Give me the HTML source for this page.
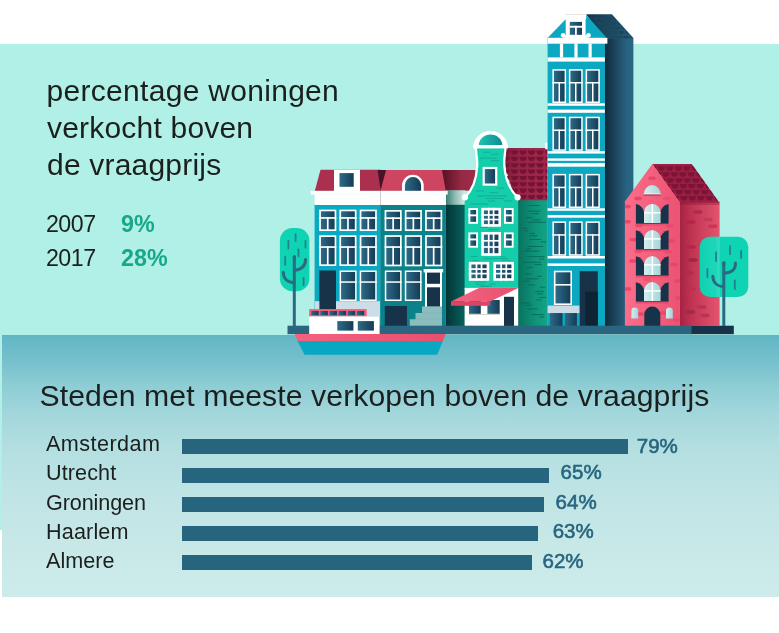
<!DOCTYPE html>
<html lang="nl">
<head>
<meta charset="utf-8">
<title>Percentage woningen verkocht boven de vraagprijs</title>
<style>
html,body{margin:0;padding:0;background:#fff;}
body{width:779px;height:633px;position:relative;overflow:hidden;font-family:"Liberation Sans",sans-serif;color:#1b1f1e;}
.sky{position:absolute;left:0;top:44px;width:779px;height:486px;background:#b1f0e6;}
.water{position:absolute;left:2px;top:335px;width:777px;height:262px;background:linear-gradient(to bottom,#61b6c4 0px,#72bfcb 22px,#8dcdd4 50px,#a3d7dc 80px,#b4dfe1 115px,#c0e4e5 160px,#c8e8e8 210px,#cdebeb 262px);}
.t{position:absolute;white-space:nowrap;line-height:1;margin:0;font-weight:400;}
.h1{font-size:30px;left:46.5px;}
.h2{font-size:30.2px;left:39.5px;top:380.8px;letter-spacing:0.08px;}
.yr{font-size:23.2px;left:45.9px;letter-spacing:-0.45px;}
.pc{font-size:23.3px;font-weight:700;color:#18a78b;left:121px;}
.city{font-size:21.6px;left:46px;}
.bar{position:absolute;left:182px;height:15px;background:#27657f;}
.val{font-size:20.5px;font-weight:400;color:#27657f;-webkit-text-stroke:0.6px #27657f;}
svg{position:absolute;left:0;top:0;}
</style>
</head>
<body>
<div class="sky"></div>
<div class="water"></div>
<svg width="779" height="633" viewBox="0 0 779 633">
<defs>
<linearGradient id="gl" x1="0" x2="1" y1="0" y2="0"><stop offset="0" stop-color="#2c6b87"/><stop offset="1" stop-color="#153c56"/></linearGradient>
<linearGradient id="gapg" x1="0" x2="1" y1="0" y2="0"><stop offset="0" stop-color="#013434"/><stop offset="1" stop-color="#08635e"/></linearGradient>
<linearGradient id="roofb" x1="0" x2="1" y1="0" y2="0"><stop offset="0.1" stop-color="#5a1427"/><stop offset="0.6" stop-color="#962944"/><stop offset="1" stop-color="#a02c48"/></linearGradient>
<linearGradient id="corng" x1="0" x2="1" y1="0" y2="0"><stop offset="0" stop-color="#33786e"/><stop offset="0.5" stop-color="#8dbcb2"/><stop offset="1" stop-color="#d6eae5"/></linearGradient>
<linearGradient id="sideg" x1="0" x2="1" y1="0" y2="0"><stop offset="0" stop-color="#08705d"/><stop offset="0.6" stop-color="#0f947a"/><stop offset="1" stop-color="#13a485"/></linearGradient>
<linearGradient id="tallside" x1="0" x2="1" y1="0" y2="0"><stop offset="0" stop-color="#10283a"/><stop offset="0.75" stop-color="#276280"/><stop offset="1" stop-color="#2a6885"/></linearGradient>
<linearGradient id="redf" x1="0" x2="1" y1="0" y2="0"><stop offset="0" stop-color="#fb6e8a"/><stop offset="1" stop-color="#ea5371"/></linearGradient>
<linearGradient id="reds" x1="0" x2="1" y1="0" y2="0"><stop offset="0" stop-color="#a32243"/><stop offset="0.25" stop-color="#bd3150"/><stop offset="1" stop-color="#e5546f"/></linearGradient>
<linearGradient id="lwin" x1="0" x2="1" y1="0" y2="0"><stop offset="0" stop-color="#d3eeee"/><stop offset="1" stop-color="#a3d7da"/></linearGradient>
<linearGradient id="groof" x1="0" x2="1" y1="0" y2="0"><stop offset="0" stop-color="#7b1b39"/><stop offset="0.35" stop-color="#98224a"/><stop offset="1" stop-color="#a3264b"/></linearGradient>
<linearGradient id="troof" x1="0" x2="1" y1="0" y2="0"><stop offset="0" stop-color="#143449"/><stop offset="1" stop-color="#265d78"/></linearGradient>
<linearGradient id="trhl" x1="0" x2="1" y1="0" y2="0"><stop offset="0" stop-color="#0fcaa8" stop-opacity=".35"/><stop offset="0.8" stop-color="#3fdcc4" stop-opacity=".3"/><stop offset="1" stop-color="#6fe8d4" stop-opacity=".45"/></linearGradient>
<linearGradient id="awn" x1="0" x2="1" y1="0" y2="0"><stop offset="0" stop-color="#f4647f"/><stop offset="1" stop-color="#e65070"/></linearGradient>
<linearGradient id="archg" x1="0" x2="1" y1="0" y2="0"><stop offset="0" stop-color="#1fc4b0"/><stop offset="1" stop-color="#0d8b96"/></linearGradient>
<linearGradient id="hullp" x1="0" x2="1" y1="0" y2="0"><stop offset="0" stop-color="#f4627f"/><stop offset="1" stop-color="#e84f6e"/></linearGradient>
<clipPath id="cgreenroof"><path d="M505,148 L547.4,148 L547.4,200.3 L518,200.3 L518,197 C510,190 505.6,180 504.6,166 Z"/></clipPath>
<clipPath id="credroof"><path d="M652.3,164.1 L691.7,164.1 L719.2,202.4 L679.8,202.4 Z"/></clipPath>
<clipPath id="credfront"><path d="M624.9,326 L624.9,201.4 L652.3,164.1 L679.8,202 L679.8,326 Z"/></clipPath>
<clipPath id="credside"><rect x="679.8" y="202" width="39.6" height="124"/></clipPath>
<clipPath id="ctallroof"><path d="M588,15 L611.5,15 L632,38 L606.5,38 Z"/></clipPath>
</defs>
<rect x="287.5" y="325.7" width="404" height="8.5" fill="#2a6680"/>
<rect x="691" y="325.7" width="42.8" height="8.5" fill="#17334a"/>
<rect x="279.9" y="228" width="29.5" height="63.19999999999999" rx="12.5" ry="12.5" fill="#0fd4b4"/>
<g stroke="#2a6a82" stroke-width="3" stroke-linecap="round" fill="none">
<path d="M294.3,256 L294.3,326" stroke-linecap="butt"/>
<path d="M294.3,256.5 L294.3,259"/>
<path d="M305.5,259.5 C305.8,266 301,270 294.3,270.3"/>
<path d="M283.3,272.2 C283.3,279 288,282.5 294.3,282.7"/>
</g>
<g stroke="#247f93" stroke-width="1.8" stroke-linecap="round">
<path d="M295.6,234.1 L295.6,241.0"/>
<path d="M288.4,240.8 L288.4,248.6"/>
<path d="M305.5,240.8 L305.5,247.7"/>
<path d="M298.5,249.3 L298.5,256.2"/>
<path d="M285.2,256.8 L285.2,264.8"/>
<path d="M303.6,277.8 L303.6,285.2"/>
</g>
<rect x="314.6" y="204" width="66" height="122" fill="#0aa9c2"/>
<path d="M320.5,169.8 L381,169.8 L381,191 L314.8,191 Z" fill="#ab304f"/>
<rect x="334" y="169.8" width="26" height="22" fill="#fff"/>
<rect x="339.5" y="173.1" width="14.2" height="13.7" fill="url(#gl)"/>
<rect x="310.7" y="190.8" width="70" height="3.8" fill="#fff"/>
<rect x="314.6" y="194.4" width="66" height="10.6" fill="#fff"/>
<rect x="319.2" y="209.6" width="17.1" height="21.4" fill="#fff"/>
<rect x="320.9" y="211.3" width="13.7" height="18.0" fill="url(#gl)"/>
<rect x="319.2" y="217.1" width="17.1" height="1.7" fill="#fff"/>
<rect x="326.9" y="217.1" width="1.7" height="13.4" fill="#fff"/>
<rect x="319.2" y="235.3" width="17.1" height="30.7" fill="#fff"/>
<rect x="320.9" y="237.0" width="13.7" height="27.3" fill="url(#gl)"/>
<rect x="319.2" y="246.2" width="17.1" height="1.7" fill="#fff"/>
<rect x="326.9" y="246.2" width="1.7" height="19.3" fill="#fff"/>
<rect x="339.4" y="209.6" width="17.1" height="21.4" fill="#fff"/>
<rect x="341.1" y="211.3" width="13.7" height="18.0" fill="url(#gl)"/>
<rect x="339.4" y="217.1" width="17.1" height="1.7" fill="#fff"/>
<rect x="347.1" y="217.1" width="1.7" height="13.4" fill="#fff"/>
<rect x="339.4" y="235.3" width="17.1" height="30.7" fill="#fff"/>
<rect x="341.1" y="237.0" width="13.7" height="27.3" fill="url(#gl)"/>
<rect x="339.4" y="246.2" width="17.1" height="1.7" fill="#fff"/>
<rect x="347.1" y="246.2" width="1.7" height="19.3" fill="#fff"/>
<rect x="359.7" y="209.6" width="17.1" height="21.4" fill="#fff"/>
<rect x="361.4" y="211.3" width="13.7" height="18.0" fill="url(#gl)"/>
<rect x="359.7" y="217.1" width="17.1" height="1.7" fill="#fff"/>
<rect x="367.4" y="217.1" width="1.7" height="13.4" fill="#fff"/>
<rect x="359.7" y="235.3" width="17.1" height="30.7" fill="#fff"/>
<rect x="361.4" y="237.0" width="13.7" height="27.3" fill="url(#gl)"/>
<rect x="359.7" y="246.2" width="17.1" height="1.7" fill="#fff"/>
<rect x="367.4" y="246.2" width="1.7" height="19.3" fill="#fff"/>
<rect x="339.6" y="270.5" width="17.0" height="30.5" fill="#fff"/>
<rect x="341.1" y="272.0" width="14.0" height="27.5" fill="url(#gl)"/>
<rect x="339.6" y="281.3" width="17.0" height="1.5" fill="#fff"/>
<rect x="359.7" y="270.5" width="17.0" height="30.5" fill="#fff"/>
<rect x="361.2" y="272.0" width="14.0" height="27.5" fill="url(#gl)"/>
<rect x="359.7" y="281.3" width="17.0" height="1.5" fill="#fff"/>
<rect x="319.3" y="270.5" width="16.7" height="40" fill="#17334a"/>
<rect x="314.8" y="301.2" width="4.5" height="15.5" fill="#ccdde8"/>
<rect x="336" y="301.2" width="44" height="15.5" fill="#ccdde8"/>
<rect x="440" y="170" width="36" height="20.6" fill="url(#roofb)"/>
<rect x="445" y="190.4" width="20" height="14.6" fill="url(#corng)"/>
<rect x="445.8" y="204.8" width="19.2" height="121.2" fill="url(#gapg)"/>
<rect x="380.3" y="204" width="65.6" height="122" fill="#0b8189"/>
<path d="M380.3,169.9 L442,169.9 L445.8,191 L380.3,191 Z" fill="#cd4560"/>
<path d="M377.6,169.9 L386,169.9 L380.6,190.5 Z" fill="#4a1226"/>
<path d="M402,191.5 L402,185.6 A10.85,10.85 0 0 1 423.7,185.6 L423.7,191.5 Z" fill="#fff"/>
<path d="M404.9,191 L404.9,185.3 A8.1,8.3 0 0 1 421.1,185.3 L421.1,191 Z" fill="url(#gl)"/>
<rect x="380.3" y="190.8" width="67.4" height="3.8" fill="#fff"/>
<rect x="380.3" y="194.4" width="65.7" height="10.6" fill="#fff"/>
<rect x="380.1" y="190.8" width="0.5" height="14.2" fill="#9a9a9a"/>
<rect x="384.6" y="210.0" width="17.1" height="21.0" fill="#fff"/>
<rect x="386.3" y="211.7" width="13.7" height="17.6" fill="url(#gl)"/>
<rect x="384.6" y="217.3" width="17.1" height="1.7" fill="#fff"/>
<rect x="392.3" y="217.3" width="1.7" height="13.2" fill="#fff"/>
<rect x="384.6" y="235.2" width="17.1" height="31.1" fill="#fff"/>
<rect x="386.3" y="236.9" width="13.7" height="27.7" fill="url(#gl)"/>
<rect x="384.6" y="246.2" width="17.1" height="1.7" fill="#fff"/>
<rect x="392.3" y="246.2" width="1.7" height="19.6" fill="#fff"/>
<rect x="404.8" y="210.0" width="17.1" height="21.0" fill="#fff"/>
<rect x="406.5" y="211.7" width="13.7" height="17.6" fill="url(#gl)"/>
<rect x="404.8" y="217.3" width="17.1" height="1.7" fill="#fff"/>
<rect x="412.5" y="217.3" width="1.7" height="13.2" fill="#fff"/>
<rect x="404.8" y="235.2" width="17.1" height="31.1" fill="#fff"/>
<rect x="406.5" y="236.9" width="13.7" height="27.7" fill="url(#gl)"/>
<rect x="404.8" y="246.2" width="17.1" height="1.7" fill="#fff"/>
<rect x="412.5" y="246.2" width="1.7" height="19.6" fill="#fff"/>
<rect x="425.1" y="210.0" width="17.1" height="21.0" fill="#fff"/>
<rect x="426.8" y="211.7" width="13.7" height="17.6" fill="url(#gl)"/>
<rect x="425.1" y="217.3" width="17.1" height="1.7" fill="#fff"/>
<rect x="432.8" y="217.3" width="1.7" height="13.2" fill="#fff"/>
<rect x="425.1" y="235.2" width="17.1" height="31.1" fill="#fff"/>
<rect x="426.8" y="236.9" width="13.7" height="27.7" fill="url(#gl)"/>
<rect x="425.1" y="246.2" width="17.1" height="1.7" fill="#fff"/>
<rect x="432.8" y="246.2" width="1.7" height="19.6" fill="#fff"/>
<rect x="384.8" y="270.5" width="16.8" height="30.5" fill="#fff"/>
<rect x="386.3" y="272.0" width="13.8" height="27.5" fill="url(#gl)"/>
<rect x="384.8" y="281.3" width="16.8" height="1.5" fill="#fff"/>
<rect x="404.8" y="270.5" width="16.8" height="30.5" fill="#fff"/>
<rect x="406.3" y="272.0" width="13.8" height="27.5" fill="url(#gl)"/>
<rect x="404.8" y="281.3" width="16.8" height="1.5" fill="#fff"/>
<rect x="423.6" y="269" width="19.6" height="3.4" fill="#fff"/>
<rect x="425" y="272" width="17" height="35" fill="#fff"/>
<rect x="427" y="272.6" width="13" height="11.2" fill="#17334a"/>
<rect x="427" y="287.3" width="13" height="19.5" fill="#17334a"/>
<rect x="384.8" y="306" width="22.2" height="20" fill="#17334a"/>
<path d="M442,306.5 L422,306.5 L422,313 L415.5,313 L415.5,319.2 L409.8,319.2 L409.8,326 L442,326 Z" fill="#8cbdbe"/>
<path d="M422,312.7 L442,312.7 M415.5,319 L442,319" stroke="#7fb1b3" stroke-width="0.6"/>
<rect x="517" y="199" width="30.8" height="127" fill="url(#sideg)"/>
<path d="M500,148 L547.4,148 L547.4,200.3 L515,200.3 Z" fill="url(#groof)"/>
<g clip-path="url(#cgreenroof)" fill="#741433">
<path d="M502.5,150.5 a3.6,4.3 0 0 0 7.2,0 z"/>
<path d="M511.0,150.5 a3.6,4.3 0 0 0 7.2,0 z"/>
<path d="M519.5,150.5 a3.6,4.3 0 0 0 7.2,0 z"/>
<path d="M528.0,150.5 a3.6,4.3 0 0 0 7.2,0 z"/>
<path d="M536.5,150.5 a3.6,4.3 0 0 0 7.2,0 z"/>
<path d="M545.0,150.5 a3.6,4.3 0 0 0 7.2,0 z"/>
<path d="M502.5,156.8 a3.6,4.3 0 0 0 7.2,0 z"/>
<path d="M511.0,156.8 a3.6,4.3 0 0 0 7.2,0 z"/>
<path d="M519.5,156.8 a3.6,4.3 0 0 0 7.2,0 z"/>
<path d="M528.0,156.8 a3.6,4.3 0 0 0 7.2,0 z"/>
<path d="M536.5,156.8 a3.6,4.3 0 0 0 7.2,0 z"/>
<path d="M545.0,156.8 a3.6,4.3 0 0 0 7.2,0 z"/>
<path d="M502.5,163.2 a3.6,4.3 0 0 0 7.2,0 z"/>
<path d="M511.0,163.2 a3.6,4.3 0 0 0 7.2,0 z"/>
<path d="M519.5,163.2 a3.6,4.3 0 0 0 7.2,0 z"/>
<path d="M528.0,163.2 a3.6,4.3 0 0 0 7.2,0 z"/>
<path d="M536.5,163.2 a3.6,4.3 0 0 0 7.2,0 z"/>
<path d="M545.0,163.2 a3.6,4.3 0 0 0 7.2,0 z"/>
<path d="M502.5,169.5 a3.6,4.3 0 0 0 7.2,0 z"/>
<path d="M511.0,169.5 a3.6,4.3 0 0 0 7.2,0 z"/>
<path d="M519.5,169.5 a3.6,4.3 0 0 0 7.2,0 z"/>
<path d="M528.0,169.5 a3.6,4.3 0 0 0 7.2,0 z"/>
<path d="M536.5,169.5 a3.6,4.3 0 0 0 7.2,0 z"/>
<path d="M545.0,169.5 a3.6,4.3 0 0 0 7.2,0 z"/>
<path d="M502.5,175.9 a3.6,4.3 0 0 0 7.2,0 z"/>
<path d="M511.0,175.9 a3.6,4.3 0 0 0 7.2,0 z"/>
<path d="M519.5,175.9 a3.6,4.3 0 0 0 7.2,0 z"/>
<path d="M528.0,175.9 a3.6,4.3 0 0 0 7.2,0 z"/>
<path d="M536.5,175.9 a3.6,4.3 0 0 0 7.2,0 z"/>
<path d="M545.0,175.9 a3.6,4.3 0 0 0 7.2,0 z"/>
<path d="M502.5,182.2 a3.6,4.3 0 0 0 7.2,0 z"/>
<path d="M511.0,182.2 a3.6,4.3 0 0 0 7.2,0 z"/>
<path d="M519.5,182.2 a3.6,4.3 0 0 0 7.2,0 z"/>
<path d="M528.0,182.2 a3.6,4.3 0 0 0 7.2,0 z"/>
<path d="M536.5,182.2 a3.6,4.3 0 0 0 7.2,0 z"/>
<path d="M545.0,182.2 a3.6,4.3 0 0 0 7.2,0 z"/>
<path d="M502.5,188.6 a3.6,4.3 0 0 0 7.2,0 z"/>
<path d="M511.0,188.6 a3.6,4.3 0 0 0 7.2,0 z"/>
<path d="M519.5,188.6 a3.6,4.3 0 0 0 7.2,0 z"/>
<path d="M528.0,188.6 a3.6,4.3 0 0 0 7.2,0 z"/>
<path d="M536.5,188.6 a3.6,4.3 0 0 0 7.2,0 z"/>
<path d="M545.0,188.6 a3.6,4.3 0 0 0 7.2,0 z"/>
<path d="M502.5,194.9 a3.6,4.3 0 0 0 7.2,0 z"/>
<path d="M511.0,194.9 a3.6,4.3 0 0 0 7.2,0 z"/>
<path d="M519.5,194.9 a3.6,4.3 0 0 0 7.2,0 z"/>
<path d="M528.0,194.9 a3.6,4.3 0 0 0 7.2,0 z"/>
<path d="M536.5,194.9 a3.6,4.3 0 0 0 7.2,0 z"/>
<path d="M545.0,194.9 a3.6,4.3 0 0 0 7.2,0 z"/>
</g>
<g stroke="#076b58" stroke-width="0.9">
<path d="M528.5,205.5 h10.9"/>
<path d="M528.5,211.2 h11.6"/>
<path d="M532.2,213.6 h6.6"/>
<path d="M526.0,217.6 h6.2"/>
<path d="M532.4,220.0 h8.0"/>
<path d="M527.9,222.3 h17.8"/>
<path d="M520.3,228.3 h7.0"/>
<path d="M524.1,230.7 h4.3"/>
<path d="M529.6,233.4 h5.4"/>
<path d="M529.2,235.8 h8.2"/>
<path d="M529.6,239.5 h11.5"/>
<path d="M540.6,241.9 h5.4"/>
<path d="M527.1,246.5 h15.9"/>
<path d="M526.0,248.9 h5.1"/>
<path d="M524.4,251.2 h15.0"/>
<path d="M527.2,256.6 h17.5"/>
<path d="M539.1,259.0 h5.0"/>
<path d="M523.3,262.3 h17.7"/>
<path d="M534.7,264.7 h7.1"/>
<path d="M526.6,267.5 h6.1"/>
<path d="M524.8,273.9 h6.5"/>
<path d="M537.3,276.3 h4.3"/>
<path d="M526.1,278.8 h12.3"/>
<path d="M522.4,281.2 h7.7"/>
<path d="M528.2,284.9 h6.5"/>
<path d="M540.1,287.3 h5.3"/>
<path d="M535.1,291.4 h9.0"/>
<path d="M537.1,293.8 h6.0"/>
<path d="M539.5,297.5 h6.3"/>
<path d="M536.0,299.9 h5.3"/>
<path d="M521.3,302.9 h8.9"/>
<path d="M524.6,305.3 h6.9"/>
<path d="M527.3,308.9 h9.8"/>
<path d="M531.7,314.6 h12.5"/>
<path d="M539.3,317.0 h4.8"/>
</g>
<rect x="545.2" y="142.8" width="2.5" height="6.4" fill="#fff"/>
<path d="M475.6,148 L505.7,148 C505.2,156 504,160 504.6,166 C505.6,180 510,190 518.2,197.5 L518.2,289 L464.6,289 L464.6,197.5 C472.5,190 476.2,180 477,166 C477.4,160 476.2,156 475.6,148 Z" fill="#13cdab"/>
<path d="M473,148.2 L473,148 A17.5,17.1 0 0 1 508,148 L508,148.2 Z" fill="#fff"/>
<path d="M478.8,145.1 A11.75,10.5 0 0 1 502.3,145.1 Z" fill="url(#archg)"/>
<path d="M473.6,144.9 L507.4,144.9 L508,148.2 L473,148.2 Z" fill="#fff"/>
<path d="M475.8,148 C476.4,156 477.6,160 477.2,166 C476.4,180 472.6,190 465,197.3" stroke="#fff" stroke-width="2.3" fill="none"/>
<path d="M505.5,148 C504.9,156 503.7,160 504.4,166 C505.4,180 509.8,190 517.6,197.3" stroke="#fff" stroke-width="2.3" fill="none"/>
<circle cx="465" cy="197.3" r="3.1" fill="#fff"/><circle cx="517.6" cy="197.3" r="3.1" fill="#fff"/>
<g stroke="#0fab91" stroke-width="0.85">
<path d="M483.1,152.3 h7.5"/>
<path d="M491,154.2 h8"/>
<path d="M480,158.2 h17.5"/>
<path d="M491,160.6 h8"/>
<path d="M496.5,188.1 h7.5"/>
<path d="M476,191 h8"/>
<path d="M489.5,192.6 h8.5"/>
<path d="M477,196 h30"/>
<path d="M486,198.5 h18"/>
<path d="M488,201 h7"/>
<path d="M504,201 h8"/>
<path d="M470,204 h18"/>
<path d="M480.6,227.5 h7.5"/>
<path d="M488.9,229.4 h9.7"/>
<path d="M487.8,229.6 h5.2"/>
<path d="M470.7,256.5 h6.9"/>
<path d="M500.2,256.7 h5.6"/>
<path d="M492.5,258.5 h15.5"/>
<path d="M483.5,258.7 h9.9"/>
<path d="M501.5,260.3 h8.9"/>
<path d="M472.6,260.5 h6.5"/>
<path d="M475.0,282.0 h11.8"/>
<path d="M489.4,284.1 h6.6"/>
<path d="M476.0,284.3 h8.4"/>
<path d="M480.3,286.2 h11.9"/>
<path d="M479.7,286.4 h9.0"/>
</g>
<rect x="482.6" y="166.9" width="14.7" height="18.8" fill="#fff"/><rect x="484.8" y="169.1" width="10.3" height="14.4" fill="url(#gl)"/>
<rect x="468.4" y="208.1" width="9.6" height="15.7" fill="#fff"/>
<rect x="470.3" y="210.0" width="5.8" height="11.9" fill="url(#gl)"/>
<rect x="468.4" y="214.4" width="9.6" height="1.9" fill="#fff"/>
<rect x="504.0" y="208.1" width="9.6" height="15.7" fill="#fff"/>
<rect x="505.9" y="210.0" width="5.8" height="11.9" fill="url(#gl)"/>
<rect x="504.0" y="214.4" width="9.6" height="1.9" fill="#fff"/>
<rect x="481.3" y="207.8" width="19.7" height="18.9" fill="#fff"/>
<rect x="483.9" y="210.4" width="14.5" height="13.7" fill="url(#gl)"/>
<rect x="487.88" y="207.8" width="1.7" height="18.9" fill="#fff"/>
<rect x="492.72" y="207.8" width="1.7" height="18.9" fill="#fff"/>
<rect x="481.3" y="214.12" width="19.7" height="1.7" fill="#fff"/>
<rect x="481.3" y="218.68" width="19.7" height="1.7" fill="#fff"/>
<rect x="468.4" y="232.4" width="9.6" height="15.3" fill="#fff"/>
<rect x="470.3" y="234.3" width="5.8" height="11.5" fill="url(#gl)"/>
<rect x="468.4" y="238.5" width="9.6" height="1.9" fill="#fff"/>
<rect x="504.0" y="232.4" width="9.6" height="15.3" fill="#fff"/>
<rect x="505.9" y="234.3" width="5.8" height="11.5" fill="url(#gl)"/>
<rect x="504.0" y="238.5" width="9.6" height="1.9" fill="#fff"/>
<rect x="481.3" y="232.0" width="19.7" height="23.8" fill="#fff"/>
<rect x="483.9" y="234.6" width="14.5" height="18.6" fill="url(#gl)"/>
<rect x="487.88" y="232.0" width="1.7" height="23.8" fill="#fff"/>
<rect x="492.72" y="232.0" width="1.7" height="23.8" fill="#fff"/>
<rect x="481.3" y="239.95" width="19.7" height="1.7" fill="#fff"/>
<rect x="481.3" y="246.15" width="19.7" height="1.7" fill="#fff"/>
<rect x="468.8" y="261.9" width="20.4" height="18.9" fill="#fff"/>
<rect x="471.4" y="264.5" width="15.2" height="13.7" fill="url(#gl)"/>
<rect x="475.62" y="261.9" width="1.7" height="18.9" fill="#fff"/>
<rect x="480.68" y="261.9" width="1.7" height="18.9" fill="#fff"/>
<rect x="468.8" y="268.22" width="20.4" height="1.7" fill="#fff"/>
<rect x="468.8" y="272.78" width="20.4" height="1.7" fill="#fff"/>
<rect x="493.4" y="261.9" width="20.6" height="18.9" fill="#fff"/>
<rect x="496.0" y="264.5" width="15.4" height="13.7" fill="url(#gl)"/>
<rect x="500.28" y="261.9" width="1.7" height="18.9" fill="#fff"/>
<rect x="505.42" y="261.9" width="1.7" height="18.9" fill="#fff"/>
<rect x="493.4" y="268.22" width="20.6" height="1.7" fill="#fff"/>
<rect x="493.4" y="272.78" width="20.6" height="1.7" fill="#fff"/>
<rect x="464.6" y="287.9" width="53.6" height="38" fill="#fff"/>
<rect x="469" y="300" width="11.8" height="13.8" fill="url(#gl)"/><rect x="487.4" y="300" width="12.3" height="13.8" fill="url(#gl)"/>
<rect x="468.5" y="314" width="31.5" height="0.6" fill="#b9b4a8"/>
<rect x="504" y="296.8" width="10" height="29.2" fill="#17334a"/>
<path d="M478.9,287.9 L518.2,287.9 L490.2,301.6 L451,301.6 Z" fill="url(#awn)"/>
<rect x="451" y="301.4" width="39.2" height="4.4" fill="#d84566"/>
<rect x="604.5" y="38" width="28.9" height="288" fill="url(#tallside)"/>
<path d="M586,14.2 L611.9,14.2 L633,37.6 L633,39 L604.5,39 Z" fill="url(#troof)"/>
<g clip-path="url(#ctallroof)" fill="#1b465e">
<path d="M580.0,17.5 a2.8,3.0 0 0 0 5.6,0 z"/>
<path d="M586.6,17.5 a2.8,3.0 0 0 0 5.6,0 z"/>
<path d="M593.2,17.5 a2.8,3.0 0 0 0 5.6,0 z"/>
<path d="M599.8,17.5 a2.8,3.0 0 0 0 5.6,0 z"/>
<path d="M606.4,17.5 a2.8,3.0 0 0 0 5.6,0 z"/>
<path d="M613.0,17.5 a2.8,3.0 0 0 0 5.6,0 z"/>
<path d="M619.6,17.5 a2.8,3.0 0 0 0 5.6,0 z"/>
<path d="M626.2,17.5 a2.8,3.0 0 0 0 5.6,0 z"/>
<path d="M632.8,17.5 a2.8,3.0 0 0 0 5.6,0 z"/>
<path d="M577.5,22.1 a2.8,3.0 0 0 0 5.6,0 z"/>
<path d="M584.1,22.1 a2.8,3.0 0 0 0 5.6,0 z"/>
<path d="M590.7,22.1 a2.8,3.0 0 0 0 5.6,0 z"/>
<path d="M597.3,22.1 a2.8,3.0 0 0 0 5.6,0 z"/>
<path d="M603.9,22.1 a2.8,3.0 0 0 0 5.6,0 z"/>
<path d="M610.5,22.1 a2.8,3.0 0 0 0 5.6,0 z"/>
<path d="M617.1,22.1 a2.8,3.0 0 0 0 5.6,0 z"/>
<path d="M623.7,22.1 a2.8,3.0 0 0 0 5.6,0 z"/>
<path d="M630.3,22.1 a2.8,3.0 0 0 0 5.6,0 z"/>
<path d="M636.9,22.1 a2.8,3.0 0 0 0 5.6,0 z"/>
<path d="M581.7,26.7 a2.8,3.0 0 0 0 5.6,0 z"/>
<path d="M588.3,26.7 a2.8,3.0 0 0 0 5.6,0 z"/>
<path d="M594.9,26.7 a2.8,3.0 0 0 0 5.6,0 z"/>
<path d="M601.5,26.7 a2.8,3.0 0 0 0 5.6,0 z"/>
<path d="M608.1,26.7 a2.8,3.0 0 0 0 5.6,0 z"/>
<path d="M614.7,26.7 a2.8,3.0 0 0 0 5.6,0 z"/>
<path d="M621.3,26.7 a2.8,3.0 0 0 0 5.6,0 z"/>
<path d="M627.9,26.7 a2.8,3.0 0 0 0 5.6,0 z"/>
<path d="M634.5,26.7 a2.8,3.0 0 0 0 5.6,0 z"/>
<path d="M579.2,31.3 a2.8,3.0 0 0 0 5.6,0 z"/>
<path d="M585.8,31.3 a2.8,3.0 0 0 0 5.6,0 z"/>
<path d="M592.4,31.3 a2.8,3.0 0 0 0 5.6,0 z"/>
<path d="M599.0,31.3 a2.8,3.0 0 0 0 5.6,0 z"/>
<path d="M605.6,31.3 a2.8,3.0 0 0 0 5.6,0 z"/>
<path d="M612.2,31.3 a2.8,3.0 0 0 0 5.6,0 z"/>
<path d="M618.8,31.3 a2.8,3.0 0 0 0 5.6,0 z"/>
<path d="M625.4,31.3 a2.8,3.0 0 0 0 5.6,0 z"/>
<path d="M632.0,31.3 a2.8,3.0 0 0 0 5.6,0 z"/>
<path d="M583.4,35.9 a2.8,3.0 0 0 0 5.6,0 z"/>
<path d="M590.0,35.9 a2.8,3.0 0 0 0 5.6,0 z"/>
<path d="M596.6,35.9 a2.8,3.0 0 0 0 5.6,0 z"/>
<path d="M603.2,35.9 a2.8,3.0 0 0 0 5.6,0 z"/>
<path d="M609.8,35.9 a2.8,3.0 0 0 0 5.6,0 z"/>
<path d="M616.4,35.9 a2.8,3.0 0 0 0 5.6,0 z"/>
<path d="M623.0,35.9 a2.8,3.0 0 0 0 5.6,0 z"/>
<path d="M629.6,35.9 a2.8,3.0 0 0 0 5.6,0 z"/>
<path d="M636.2,35.9 a2.8,3.0 0 0 0 5.6,0 z"/>
</g>
<rect x="547.6" y="37.5" width="57.3" height="288.5" fill="#0ca8c2"/>
<path d="M547.8,37.8 L565.4,19.4 L586.2,15 L606.6,37.8 Z" fill="#0ca8c2"/>
<rect x="565" y="14.2" width="21.2" height="5" fill="#fff"/><rect x="565" y="14.2" width="21.2" height="0.8" fill="#e6dfda"/>
<rect x="565.7" y="19" width="19.9" height="19" fill="#fff"/>
<rect x="569.8" y="21.9" width="12.2" height="12.9" fill="url(#gl)"/>
<rect x="569.8" y="25.8" width="12.2" height="1.9" fill="#fff"/><rect x="575" y="25.8" width="1.8" height="9" fill="#fff"/>
<circle cx="563.1" cy="35.2" r="2.3" fill="#fff"/><circle cx="588.5" cy="35.2" r="2.3" fill="#fff"/><rect x="563" y="35.2" width="25.6" height="2.6" fill="#fff"/>
<rect x="547.8" y="37.9" width="59.6" height="5.8" fill="#fff"/>
<rect x="559.9" y="43.5" width="3.2" height="14" fill="#fff"/>
<rect x="574.4" y="43.5" width="3.2" height="14" fill="#fff"/>
<rect x="588.5" y="43.5" width="3.2" height="14" fill="#fff"/>
<rect x="547.6" y="57.4" width="57.3" height="4.2" fill="#fff"/>
<rect x="552.4" y="69.2" width="13.7" height="33.8" fill="#fff"/>
<rect x="553.9" y="70.7" width="10.7" height="30.8" fill="url(#gl)"/>
<rect x="552.4" y="82.0" width="13.7" height="1.5" fill="#fff"/>
<rect x="558.5" y="82.0" width="1.5" height="20.5" fill="#fff"/>
<rect x="568.9" y="69.2" width="13.8" height="33.8" fill="#fff"/>
<rect x="570.4" y="70.7" width="10.8" height="30.8" fill="url(#gl)"/>
<rect x="568.9" y="82.0" width="13.8" height="1.5" fill="#fff"/>
<rect x="575.0" y="82.0" width="1.5" height="20.5" fill="#fff"/>
<rect x="585.6" y="69.2" width="14.2" height="33.8" fill="#fff"/>
<rect x="587.1" y="70.7" width="11.2" height="30.8" fill="url(#gl)"/>
<rect x="585.6" y="82.0" width="14.2" height="1.5" fill="#fff"/>
<rect x="592.0" y="82.0" width="1.5" height="20.5" fill="#fff"/>
<rect x="547.6" y="103.3" width="57.3" height="2.5" fill="#fff"/>
<rect x="552.4" y="116.7" width="13.7" height="34.1" fill="#fff"/>
<rect x="553.9" y="118.2" width="10.7" height="31.1" fill="url(#gl)"/>
<rect x="552.4" y="129.5" width="13.7" height="1.5" fill="#fff"/>
<rect x="558.5" y="129.5" width="1.5" height="20.8" fill="#fff"/>
<rect x="568.9" y="116.7" width="13.8" height="34.1" fill="#fff"/>
<rect x="570.4" y="118.2" width="10.8" height="31.1" fill="url(#gl)"/>
<rect x="568.9" y="129.5" width="13.8" height="1.5" fill="#fff"/>
<rect x="575.0" y="129.5" width="1.5" height="20.8" fill="#fff"/>
<rect x="585.6" y="116.7" width="14.2" height="34.1" fill="#fff"/>
<rect x="587.1" y="118.2" width="11.2" height="31.1" fill="url(#gl)"/>
<rect x="585.6" y="129.5" width="14.2" height="1.5" fill="#fff"/>
<rect x="592.0" y="129.5" width="1.5" height="20.8" fill="#fff"/>
<rect x="547.6" y="151.1" width="57.3" height="2.5" fill="#fff"/>
<rect x="552.4" y="173.9" width="13.7" height="34.1" fill="#fff"/>
<rect x="553.9" y="175.4" width="10.7" height="31.1" fill="url(#gl)"/>
<rect x="552.4" y="186.7" width="13.7" height="1.5" fill="#fff"/>
<rect x="558.5" y="186.7" width="1.5" height="20.8" fill="#fff"/>
<rect x="568.9" y="173.9" width="13.8" height="34.1" fill="#fff"/>
<rect x="570.4" y="175.4" width="10.8" height="31.1" fill="url(#gl)"/>
<rect x="568.9" y="186.7" width="13.8" height="1.5" fill="#fff"/>
<rect x="575.0" y="186.7" width="1.5" height="20.8" fill="#fff"/>
<rect x="585.6" y="173.9" width="14.2" height="34.1" fill="#fff"/>
<rect x="587.1" y="175.4" width="11.2" height="31.1" fill="url(#gl)"/>
<rect x="585.6" y="186.7" width="14.2" height="1.5" fill="#fff"/>
<rect x="592.0" y="186.7" width="1.5" height="20.8" fill="#fff"/>
<rect x="547.6" y="208.3" width="57.3" height="2.5" fill="#fff"/>
<rect x="552.4" y="221.4" width="13.7" height="34.3" fill="#fff"/>
<rect x="553.9" y="222.9" width="10.7" height="31.3" fill="url(#gl)"/>
<rect x="552.4" y="234.2" width="13.7" height="1.5" fill="#fff"/>
<rect x="558.5" y="234.2" width="1.5" height="21.0" fill="#fff"/>
<rect x="568.9" y="221.4" width="13.8" height="34.3" fill="#fff"/>
<rect x="570.4" y="222.9" width="10.8" height="31.3" fill="url(#gl)"/>
<rect x="568.9" y="234.2" width="13.8" height="1.5" fill="#fff"/>
<rect x="575.0" y="234.2" width="1.5" height="21.0" fill="#fff"/>
<rect x="585.6" y="221.4" width="14.2" height="34.3" fill="#fff"/>
<rect x="587.1" y="222.9" width="11.2" height="31.3" fill="url(#gl)"/>
<rect x="585.6" y="234.2" width="14.2" height="1.5" fill="#fff"/>
<rect x="592.0" y="234.2" width="1.5" height="21.0" fill="#fff"/>
<rect x="547.6" y="256.0" width="57.3" height="2.5" fill="#fff"/>
<rect x="547.6" y="109.6" width="57.3" height="3.2" fill="#fff"/>
<rect x="547.6" y="158.4" width="57.3" height="2.4" fill="#fff"/>
<rect x="547.6" y="163.1" width="57.3" height="3.6" fill="#fff"/>
<rect x="547.6" y="215" width="57.3" height="2.7" fill="#fff"/>
<rect x="547.6" y="263.4" width="57.3" height="2.6" fill="#fff"/>
<rect x="553.9" y="270.7" width="18.1" height="34.3" fill="#fff"/>
<rect x="555.5" y="272.3" width="14.9" height="31.1" fill="url(#gl)"/>
<rect x="553.9" y="284.0" width="18.1" height="1.6" fill="#fff"/>
<rect x="547.6" y="305.6" width="32.1" height="7.5" fill="#c9dce7"/>
<rect x="549.9" y="313.1" width="12.6" height="13" fill="url(#gl)"/><rect x="564.9" y="313.1" width="12" height="13" fill="url(#gl)"/>
<rect x="579.7" y="271.2" width="18.1" height="55" fill="#17334a"/><rect x="585.2" y="291.7" width="12.6" height="34.5" fill="#0e2434"/>
<rect x="679.5" y="201.5" width="40.1" height="124.5" fill="url(#reds)"/>
<path d="M652.3,164.1 L691.7,164.1 L719.2,202.4 L679.8,202.4 Z" fill="#9d1d43"/>
<g clip-path="url(#credroof)" fill="#7b1536">
<path d="M640.9,166.3 a3.6,4.5 0 0 0 7.2,0 z"/>
<path d="M649.3,166.3 a3.6,4.5 0 0 0 7.2,0 z"/>
<path d="M657.8,166.3 a3.6,4.5 0 0 0 7.2,0 z"/>
<path d="M666.2,166.3 a3.6,4.5 0 0 0 7.2,0 z"/>
<path d="M674.7,166.3 a3.6,4.5 0 0 0 7.2,0 z"/>
<path d="M683.2,166.3 a3.6,4.5 0 0 0 7.2,0 z"/>
<path d="M691.6,166.3 a3.6,4.5 0 0 0 7.2,0 z"/>
<path d="M700.1,166.3 a3.6,4.5 0 0 0 7.2,0 z"/>
<path d="M708.5,166.3 a3.6,4.5 0 0 0 7.2,0 z"/>
<path d="M717.0,166.3 a3.6,4.5 0 0 0 7.2,0 z"/>
<path d="M725.4,166.3 a3.6,4.5 0 0 0 7.2,0 z"/>
<path d="M637.0,172.2 a3.6,4.5 0 0 0 7.2,0 z"/>
<path d="M645.4,172.2 a3.6,4.5 0 0 0 7.2,0 z"/>
<path d="M653.9,172.2 a3.6,4.5 0 0 0 7.2,0 z"/>
<path d="M662.3,172.2 a3.6,4.5 0 0 0 7.2,0 z"/>
<path d="M670.8,172.2 a3.6,4.5 0 0 0 7.2,0 z"/>
<path d="M679.2,172.2 a3.6,4.5 0 0 0 7.2,0 z"/>
<path d="M687.7,172.2 a3.6,4.5 0 0 0 7.2,0 z"/>
<path d="M696.1,172.2 a3.6,4.5 0 0 0 7.2,0 z"/>
<path d="M704.6,172.2 a3.6,4.5 0 0 0 7.2,0 z"/>
<path d="M713.0,172.2 a3.6,4.5 0 0 0 7.2,0 z"/>
<path d="M721.5,172.2 a3.6,4.5 0 0 0 7.2,0 z"/>
<path d="M641.5,178.2 a3.6,4.5 0 0 0 7.2,0 z"/>
<path d="M649.9,178.2 a3.6,4.5 0 0 0 7.2,0 z"/>
<path d="M658.4,178.2 a3.6,4.5 0 0 0 7.2,0 z"/>
<path d="M666.8,178.2 a3.6,4.5 0 0 0 7.2,0 z"/>
<path d="M675.3,178.2 a3.6,4.5 0 0 0 7.2,0 z"/>
<path d="M683.7,178.2 a3.6,4.5 0 0 0 7.2,0 z"/>
<path d="M692.2,178.2 a3.6,4.5 0 0 0 7.2,0 z"/>
<path d="M700.6,178.2 a3.6,4.5 0 0 0 7.2,0 z"/>
<path d="M709.1,178.2 a3.6,4.5 0 0 0 7.2,0 z"/>
<path d="M717.5,178.2 a3.6,4.5 0 0 0 7.2,0 z"/>
<path d="M726.0,178.2 a3.6,4.5 0 0 0 7.2,0 z"/>
<path d="M637.5,184.1 a3.6,4.5 0 0 0 7.2,0 z"/>
<path d="M646.0,184.1 a3.6,4.5 0 0 0 7.2,0 z"/>
<path d="M654.4,184.1 a3.6,4.5 0 0 0 7.2,0 z"/>
<path d="M662.9,184.1 a3.6,4.5 0 0 0 7.2,0 z"/>
<path d="M671.3,184.1 a3.6,4.5 0 0 0 7.2,0 z"/>
<path d="M679.8,184.1 a3.6,4.5 0 0 0 7.2,0 z"/>
<path d="M688.2,184.1 a3.6,4.5 0 0 0 7.2,0 z"/>
<path d="M696.7,184.1 a3.6,4.5 0 0 0 7.2,0 z"/>
<path d="M705.1,184.1 a3.6,4.5 0 0 0 7.2,0 z"/>
<path d="M713.6,184.1 a3.6,4.5 0 0 0 7.2,0 z"/>
<path d="M722.0,184.1 a3.6,4.5 0 0 0 7.2,0 z"/>
<path d="M642.0,190.1 a3.6,4.5 0 0 0 7.2,0 z"/>
<path d="M650.5,190.1 a3.6,4.5 0 0 0 7.2,0 z"/>
<path d="M658.9,190.1 a3.6,4.5 0 0 0 7.2,0 z"/>
<path d="M667.4,190.1 a3.6,4.5 0 0 0 7.2,0 z"/>
<path d="M675.8,190.1 a3.6,4.5 0 0 0 7.2,0 z"/>
<path d="M684.3,190.1 a3.6,4.5 0 0 0 7.2,0 z"/>
<path d="M692.7,190.1 a3.6,4.5 0 0 0 7.2,0 z"/>
<path d="M701.2,190.1 a3.6,4.5 0 0 0 7.2,0 z"/>
<path d="M709.6,190.1 a3.6,4.5 0 0 0 7.2,0 z"/>
<path d="M718.1,190.1 a3.6,4.5 0 0 0 7.2,0 z"/>
<path d="M726.5,190.1 a3.6,4.5 0 0 0 7.2,0 z"/>
<path d="M638.1,196.0 a3.6,4.5 0 0 0 7.2,0 z"/>
<path d="M646.5,196.0 a3.6,4.5 0 0 0 7.2,0 z"/>
<path d="M655.0,196.0 a3.6,4.5 0 0 0 7.2,0 z"/>
<path d="M663.4,196.0 a3.6,4.5 0 0 0 7.2,0 z"/>
<path d="M671.9,196.0 a3.6,4.5 0 0 0 7.2,0 z"/>
<path d="M680.3,196.0 a3.6,4.5 0 0 0 7.2,0 z"/>
<path d="M688.8,196.0 a3.6,4.5 0 0 0 7.2,0 z"/>
<path d="M697.2,196.0 a3.6,4.5 0 0 0 7.2,0 z"/>
<path d="M705.7,196.0 a3.6,4.5 0 0 0 7.2,0 z"/>
<path d="M714.1,196.0 a3.6,4.5 0 0 0 7.2,0 z"/>
<path d="M722.6,196.0 a3.6,4.5 0 0 0 7.2,0 z"/>
</g>
<path d="M624.9,326 L624.9,201.4 L652.3,164.1 L679.8,202 L679.8,326 Z" fill="url(#redf)"/>
<rect x="679.8" y="202" width="39.6" height="3" fill="#7d1634" opacity=".35"/>
<g clip-path="url(#credfront)">
<path d="M647.8,178.3 l1.7,-1.7 h5.1 l1.7,1.7 l-1.7,1.7 h-5.1 z" fill="#ea3f66" opacity="0.85"/>
<path d="M633.8,198.5 l1.7,-1.7 h5.1 l1.7,1.7 l-1.7,1.7 h-5.1 z" fill="#ea3f66" opacity="0.85"/>
<path d="M662.5,198.5 l1.7,-1.7 h5.1 l1.7,1.7 l-1.7,1.7 h-5.1 z" fill="#ea3f66" opacity="0.425"/>
<path d="M622.8,206.5 l1.7,-1.7 h5.1 l1.7,1.7 l-1.7,1.7 h-5.1 z" fill="#ea3f66" opacity="0.85"/>
<path d="M622.8,221.8 l1.7,-1.7 h5.1 l1.7,1.7 l-1.7,1.7 h-5.1 z" fill="#ea3f66" opacity="0.85"/>
<path d="M634.8,225.5 l1.7,-1.7 h5.1 l1.7,1.7 l-1.7,1.7 h-5.1 z" fill="#ea3f66" opacity="0.765"/>
<path d="M665.8,226.0 l1.7,-1.7 h5.1 l1.7,1.7 l-1.7,1.7 h-5.1 z" fill="#ea3f66" opacity="0.595"/>
<path d="M629.2,239.6 l1.7,-1.7 h5.1 l1.7,1.7 l-1.7,1.7 h-5.1 z" fill="#ea3f66" opacity="0.85"/>
<path d="M666.8,241.0 l1.7,-1.7 h5.1 l1.7,1.7 l-1.7,1.7 h-5.1 z" fill="#ea3f66" opacity="0.765"/>
<path d="M633.8,251.5 l1.7,-1.7 h5.1 l1.7,1.7 l-1.7,1.7 h-5.1 z" fill="#ea3f66" opacity="0.595"/>
<path d="M663.8,252.0 l1.7,-1.7 h5.1 l1.7,1.7 l-1.7,1.7 h-5.1 z" fill="#ea3f66" opacity="0.51"/>
<path d="M628.8,261.0 l1.7,-1.7 h5.1 l1.7,1.7 l-1.7,1.7 h-5.1 z" fill="#ea3f66" opacity="0.85"/>
<path d="M669.8,264.5 l1.7,-1.7 h5.1 l1.7,1.7 l-1.7,1.7 h-5.1 z" fill="#ea3f66" opacity="0.765"/>
<path d="M642.8,279.5 l1.7,-1.7 h5.1 l1.7,1.7 l-1.7,1.7 h-5.1 z" fill="#ea3f66" opacity="0.51"/>
<path d="M673.8,281.0 l1.7,-1.7 h5.1 l1.7,1.7 l-1.7,1.7 h-5.1 z" fill="#ea3f66" opacity="0.68"/>
<path d="M623.2,289.0 l1.7,-1.7 h5.1 l1.7,1.7 l-1.7,1.7 h-5.1 z" fill="#ea3f66" opacity="0.85"/>
<path d="M674.8,298.0 l1.7,-1.7 h5.1 l1.7,1.7 l-1.7,1.7 h-5.1 z" fill="#ea3f66" opacity="0.595"/>
<path d="M635.8,314.0 l1.7,-1.7 h5.1 l1.7,1.7 l-1.7,1.7 h-5.1 z" fill="#ea3f66" opacity="0.85"/>
<path d="M659.8,313.0 l1.7,-1.7 h5.1 l1.7,1.7 l-1.7,1.7 h-5.1 z" fill="#ea3f66" opacity="0.765"/>
<path d="M672.8,320.0 l1.7,-1.7 h5.1 l1.7,1.7 l-1.7,1.7 h-5.1 z" fill="#ea3f66" opacity="0.595"/>
</g>
<path d="M692.8,212.0 l1.7,-1.8 h6.6 l1.7,1.8 l-1.7,1.8 h-6.6 z" fill="#ab2c4b" opacity="1"/>
<path d="M703.0,219.5 l1.7,-1.8 h6.6 l1.7,1.8 l-1.7,1.8 h-6.6 z" fill="#c33c5a" opacity="1"/>
<path d="M685.8,222.0 l1.7,-1.8 h6.6 l1.7,1.8 l-1.7,1.8 h-6.6 z" fill="#b02747" opacity="1"/>
<path d="M707.5,226.2 l1.7,-1.8 h6.6 l1.7,1.8 l-1.7,1.8 h-6.6 z" fill="#c93458" opacity="1"/>
<path d="M686.0,247.0 l1.7,-1.8 h6.6 l1.7,1.8 l-1.7,1.8 h-6.6 z" fill="#b12747" opacity="1"/>
<path d="M688.0,260.0 l1.7,-1.8 h6.6 l1.7,1.8 l-1.7,1.8 h-6.6 z" fill="#9f2744" opacity="1"/>
<path d="M684.0,273.0 l1.7,-1.8 h6.6 l1.7,1.8 l-1.7,1.8 h-6.6 z" fill="#b32b4a" opacity="1"/>
<path d="M686.0,289.0 l1.7,-1.8 h6.6 l1.7,1.8 l-1.7,1.8 h-6.6 z" fill="#c22d52" opacity="1"/>
<path d="M696.5,307.0 l1.7,-1.8 h6.6 l1.7,1.8 l-1.7,1.8 h-6.6 z" fill="#b63350" opacity="1"/>
<path d="M685.5,312.0 l1.7,-1.8 h6.6 l1.7,1.8 l-1.7,1.8 h-6.6 z" fill="#a32a45" opacity="1"/>
<path d="M700.0,315.5 l1.7,-1.8 h6.6 l1.7,1.8 l-1.7,1.8 h-6.6 z" fill="#bd3452" opacity="1"/>
<path d="M644,194 A8.25,9 0 0 1 660.5,194 Z" fill="url(#lwin)"/><rect x="643.6" y="193.6" width="17.3" height="1" fill="#fff"/><rect x="643.6" y="194.6" width="17.3" height="0.8" fill="#8a1c3a"/>
<path d="M635.9,204.1 Q643,205.6 644.2,212.6 L644.2,223.0 L635.9,223.0 Z" fill="#17334a"/>
<path d="M668.6,204.1 Q661.5,205.6 660.3,212.6 L660.3,223.0 L668.6,223.0 Z" fill="#17334a"/>
<path d="M644,223.0 L644,212.4 A8.25,8.3 0 0 1 660.5,212.4 L660.5,223.0 Z" fill="url(#lwin)"/>
<rect x="651.6" y="204.1" width="1.5" height="18.9" fill="#fff"/><rect x="644" y="212.1" width="16.5" height="1.4" fill="#fff"/>
<rect x="635.9" y="223.0" width="32.7" height="1" fill="#a81f42"/>
<rect x="635.9" y="224.0" width="32.7" height="1.6" fill="#e24a6a" opacity=".7"/>
<path d="M635.9,230.2 Q643,231.7 644.2,238.7 L644.2,249.1 L635.9,249.1 Z" fill="#17334a"/>
<path d="M668.6,230.2 Q661.5,231.7 660.3,238.7 L660.3,249.1 L668.6,249.1 Z" fill="#17334a"/>
<path d="M644,249.1 L644,238.5 A8.25,8.3 0 0 1 660.5,238.5 L660.5,249.1 Z" fill="url(#lwin)"/>
<rect x="651.6" y="230.2" width="1.5" height="18.9" fill="#fff"/><rect x="644" y="238.2" width="16.5" height="1.4" fill="#fff"/>
<rect x="635.9" y="249.1" width="32.7" height="1" fill="#a81f42"/>
<rect x="635.9" y="250.1" width="32.7" height="1.6" fill="#e24a6a" opacity=".7"/>
<path d="M635.9,256.2 Q643,257.7 644.2,264.7 L644.2,275.09999999999997 L635.9,275.09999999999997 Z" fill="#17334a"/>
<path d="M668.6,256.2 Q661.5,257.7 660.3,264.7 L660.3,275.09999999999997 L668.6,275.09999999999997 Z" fill="#17334a"/>
<path d="M644,275.09999999999997 L644,264.5 A8.25,8.3 0 0 1 660.5,264.5 L660.5,275.09999999999997 Z" fill="url(#lwin)"/>
<rect x="651.6" y="256.2" width="1.5" height="18.9" fill="#fff"/><rect x="644" y="264.2" width="16.5" height="1.4" fill="#fff"/>
<rect x="635.9" y="275.09999999999997" width="32.7" height="1" fill="#a81f42"/>
<rect x="635.9" y="276.09999999999997" width="32.7" height="1.6" fill="#e24a6a" opacity=".7"/>
<path d="M635.9,282.2 Q643,283.7 644.2,290.7 L644.2,301.09999999999997 L635.9,301.09999999999997 Z" fill="#17334a"/>
<path d="M668.6,282.2 Q661.5,283.7 660.3,290.7 L660.3,301.09999999999997 L668.6,301.09999999999997 Z" fill="#17334a"/>
<path d="M644,301.09999999999997 L644,290.5 A8.25,8.3 0 0 1 660.5,290.5 L660.5,301.09999999999997 Z" fill="url(#lwin)"/>
<rect x="651.6" y="282.2" width="1.5" height="18.9" fill="#fff"/><rect x="644" y="290.2" width="16.5" height="1.4" fill="#fff"/>
<rect x="635.9" y="301.09999999999997" width="32.7" height="1" fill="#a81f42"/>
<rect x="635.9" y="302.09999999999997" width="32.7" height="1.6" fill="#e24a6a" opacity=".7"/>
<path d="M644.3,326 L644.3,314.6 A8,8 0 0 1 660.3,314.6 L660.3,326 Z" fill="#17334a"/>
<path d="M631.4,318.6 L631.4,310.8 A3.4,3.4 0 0 1 638.1999999999999,310.8 L638.1999999999999,318.6 Z" fill="url(#lwin)"/>
<path d="M666,318.6 L666,310.8 A3.4,3.4 0 0 1 672.8,310.8 L672.8,318.6 Z" fill="url(#lwin)"/>
<rect x="699.7" y="236.7" width="48.59999999999991" height="60.30000000000001" rx="10.5" ry="10.5" fill="#0fd4b4"/>
<path d="M710.2,236.7 L719.6,236.7 L719.6,297 L710.2,297 A10.5,10.5 0 0 1 699.7,286.5 L699.7,247.2 A10.5,10.5 0 0 1 710.2,236.7 Z" fill="url(#trhl)"/>
<g stroke="#2a6a82" stroke-width="3" stroke-linecap="round" fill="none">
<path d="M723.8,262 L723.8,326" stroke-linecap="butt"/>
<path d="M723.8,262.5 L723.8,265"/>
<path d="M735.4,263.1 C735.8,270 731,273 723.8,273.3"/>
<path d="M712.8,276.2 C713,283 718,286.5 723.8,286.8"/>
</g>
<g stroke="#247f93" stroke-width="1.8" stroke-linecap="round">
<path d="M716.1,252.4 L716.1,261.0"/>
<path d="M730,246.2 L730,254.2"/>
<path d="M741.1,251.0 L741.1,258.1"/>
<path d="M707.4,268.9 L707.4,277.3"/>
<path d="M734.8,280.5 L734.8,288.9"/>
</g>
<rect x="379.5" y="325.7" width="312" height="8.5" fill="#2a6680"/>
<rect x="309.2" y="309.1" width="57.5" height="7.6" fill="#ee5f7d"/>
<rect x="311.3" y="311" width="7.4" height="4.2" fill="url(#gl)"/>
<rect x="320.4" y="311" width="7.4" height="4.2" fill="url(#gl)"/>
<rect x="329.5" y="311" width="7.4" height="4.2" fill="url(#gl)"/>
<rect x="338.6" y="311" width="7.4" height="4.2" fill="url(#gl)"/>
<rect x="347.7" y="311" width="7.4" height="4.2" fill="url(#gl)"/>
<rect x="356.8" y="311" width="7.4" height="4.2" fill="url(#gl)"/>
<rect x="309.2" y="316.4" width="70.4" height="18" fill="#fff"/>
<rect x="337.3" y="321.1" width="16.1" height="9.5" fill="url(#gl)"/><rect x="357.8" y="321.1" width="16.1" height="9.5" fill="url(#gl)"/>
<path d="M294.6,334 L445.8,334 L442.8,341.1 L297.6,341.1 Z" fill="url(#hullp)"/>
<path d="M297.5,340.9 L442.9,340.9 L437.3,354.8 L304.5,354.8 Z" fill="#08a7c2"/>
</svg>
<h1 class="t h1" style="top:76.2px;letter-spacing:0.3px">percentage woningen</h1>
<h1 class="t h1" style="top:113.1px;letter-spacing:0.2px;left:47px">verkocht boven</h1>
<h1 class="t h1" style="top:149.9px;letter-spacing:0.2px;left:47px">de vraagprijs</h1>
<div class="t yr" style="top:213.4px">2007</div><div class="t pc" style="top:213.1px">9%</div>
<div class="t yr" style="top:247px">2017</div><div class="t pc" style="top:246.6px">28%</div>
<h2 class="t h2">Steden met meeste verkopen boven de vraagprijs</h2>
<div class="t city" style="top:433.2px;letter-spacing:0.45px">Amsterdam</div><div class="bar" style="top:439px;width:446px"></div><div class="t val" style="left:636.8px;top:435.8px">79%</div>
<div class="t city" style="top:462.4px;letter-spacing:0.1px">Utrecht</div><div class="bar" style="top:468px;width:367px"></div><div class="t val" style="left:560.6px;top:462px">65%</div>
<div class="t city" style="top:491.6px;letter-spacing:-0.1px">Groningen</div><div class="bar" style="top:497px;width:361.5px"></div><div class="t val" style="left:555.6px;top:491.9px">64%</div>
<div class="t city" style="top:520.8px;letter-spacing:0.15px">Haarlem</div><div class="bar" style="top:526px;width:356px"></div><div class="t val" style="left:552.7px;top:521px">63%</div>
<div class="t city" style="top:550px">Almere</div><div class="bar" style="top:555px;width:350.3px"></div><div class="t val" style="left:542.5px;top:551.4px">62%</div>
</body>
</html>
